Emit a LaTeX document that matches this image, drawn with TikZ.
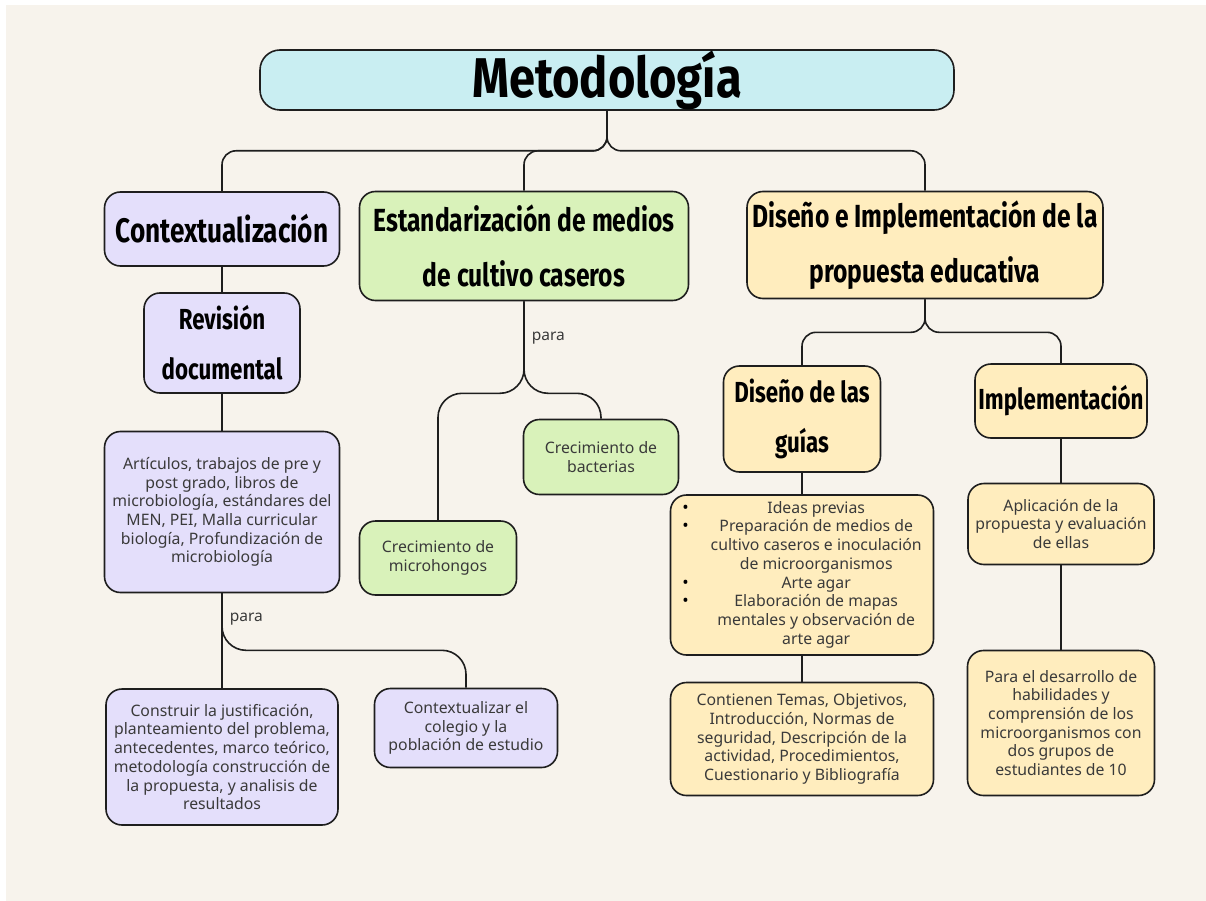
\documentclass[tikz,border=0pt]{standalone}
\usepackage{fontspec}
\setmainfont{Noto Sans}
\newfontfamily\headfont[FakeStretch=0.77]{Fira Sans}
\newfontfamily\headfontancho[FakeStretch=0.84]{Fira Sans}

\definecolor{fondo}{HTML}{F7F3EC}
\definecolor{cian}{HTML}{C9EEF2}
\definecolor{lila}{HTML}{E4DFFB}
\definecolor{verde}{HTML}{D9F2BA}
\definecolor{crema}{HTML}{FFEDBE}
\definecolor{borde}{HTML}{1E1E1E}
\definecolor{texto}{HTML}{3A3A3A}

\newcommand{\punto}{{\fontsize{17}{18.7}\selectfont\textcolor{black}{\textbullet}}}

\begin{document}
\begin{tikzpicture}[x=1pt,y=-1pt,
    caja/.style={draw=borde, line width=1.6pt, rounded corners=16pt, inner sep=0pt,
      align=center, text=texto, font=\fontsize{15.8}{18.7}\selectfont},
    titulo/.style={caja, text=black, font=\headfont\bfseries\fontsize{32}{55}\selectfont},
    etiqueta/.style={anchor=west, inner sep=7pt, text=texto, font=\fontsize{15.5}{18}\selectfont}]

      \useasboundingbox (0,0) rectangle (1206,901);
      \fill[fondo] (6,5) rectangle (1206,901);

      \node[titulo, fill=cian, minimum width=694, minimum height=60, rounded corners=20pt,
        font=\headfontancho\bfseries\fontsize{56}{60}\selectfont] (1) at (607,80) {Metodología};

      \begin{scope}[every node/.style={fill=lila}]
        \node[titulo, minimum width=235, minimum height=74,
          font=\headfont\bfseries\fontsize{34}{55}\selectfont] (2) at (222,229) {Contextualización};
        \node[titulo, minimum width=156, minimum height=100,
          font=\headfont\bfseries\fontsize{29}{50}\selectfont] (3) at (222,343) {Revisión\\documental};
        \node[caja, minimum width=235, minimum height=161]   (4) at (222,512) {Artículos, trabajos de pre y\\post grado, libros de\\microbiología, estándares del\\MEN, PEI, Malla curricular\\biología, Profundización de\\microbiología};
        \node[caja, minimum width=232, minimum height=136]   (5) at (222,757) {Construir la justificación,\\planteamiento del problema,\\antecedentes, marco teórico,\\metodología construcción de\\la propuesta, y analisis de\\resultados};
        \node[caja, minimum width=183, minimum height=79]    (6) at (466,728) {Contextualizar el\\colegio y la\\población de estudio};
      \end{scope}

      \begin{scope}[every node/.style={fill=verde}]
        \node[titulo, minimum width=329, minimum height=109] (7) at (524,246) {Estandarización de medios\\de cultivo caseros};
        \node[caja, minimum width=155, minimum height=75]    (8) at (601,457) {Crecimiento de\\bacterias};
        \node[caja, minimum width=157, minimum height=74]    (9) at (438,558) {Crecimiento de\\microhongos};
      \end{scope}

      \begin{scope}[every node/.style={fill=crema}]
        \node[titulo, minimum width=356, minimum height=107] (10) at (925,245) {Diseño e Implementación de la\\propuesta educativa};
        \node[titulo, minimum width=157, minimum height=106,
          font=\headfont\bfseries\fontsize{29}{50}\selectfont] (11) at (802,419) {Diseño de las\\guías};
        \node[titulo, minimum width=172, minimum height=74,
          font=\headfont\bfseries\fontsize{29}{50}\selectfont] (12) at (1061,401) {Implementación};
        \node[caja, minimum width=263, minimum height=160]   (13) at (802,575) {%
          \begin{tabular}{@{}l@{\hspace{22pt}}c@{}}
            \punto & Ideas previas\\
            \punto & Preparación de medios de\\
                   & cultivo caseros e inoculación\\
                   & de microorganismos\\
            \punto & Arte agar\\
            \punto & Elaboración de mapas\\
                   & mentales y observación de\\
                   & arte agar
          \end{tabular}};
        \node[caja, minimum width=263, minimum height=113]  (14) at (802,739) {Contienen Temas, Objetivos,\\Introducción, Normas de\\seguridad, Descripción de la\\actividad, Procedimientos,\\Cuestionario y Bibliografía};
        \node[caja, minimum width=186, minimum height=81]   (15) at (1061,524) {Aplicación de la\\propuesta y evaluación\\de ellas};
        \node[caja, minimum width=187, minimum height=145]  (16) at (1061,723) {Para el desarrollo de\\habilidades y\\comprensión de los\\microorganismos con\\dos grupos de\\estudiantes de 10};
      \end{scope}

      \begin{scope}[draw=borde, line width=1.6pt, rounded corners=14pt]
        \draw (1.south) -- ++(0,40) -| (2.north);
        \draw (1.south) -- ++(0,40) -| (7.north);
        \draw (1.south) -- ++(0,40) -| (10.north);
        \draw (2) -- (3);
        \draw (3) -- (4);
        \draw (4) -- (5);
        \draw[rounded corners=24pt] (4.south) -- node[etiqueta, pos=0.45] {para} ++(0,57) -| (6.north);
        \draw[rounded corners=24pt] (7.south) -- node[etiqueta, pos=0.4] {para} ++(0,92) -| (9.north);
        \draw[rounded corners=24pt] (7.south) -- ++(0,92) -| (8.north);
        \draw (10.south) -- ++(0,33) -| (11.north);
        \draw (10.south) -- ++(0,33) -| (12.north);
        \draw (11) -- (13);
        \draw (13) -- (14);
        \draw (12) -- (15);
        \draw (15) -- (16);
      \end{scope}

    \end{tikzpicture}
\end{document}
